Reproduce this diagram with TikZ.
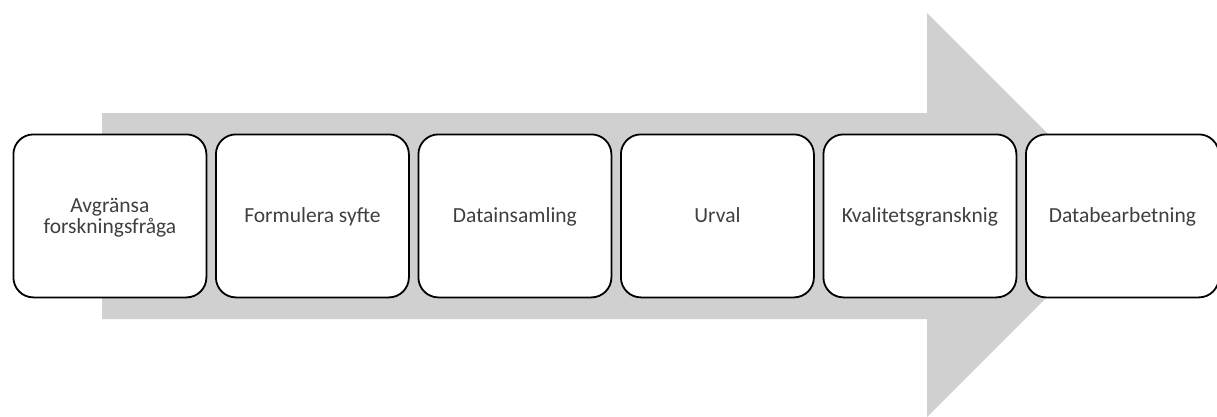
\documentclass[tikz,border=0pt]{standalone}
\usepackage{fontspec}
\setmainfont{Carlito}
\definecolor{arrowgray}{HTML}{D0D0D0}
\definecolor{txtgray}{HTML}{3F3F3F}
\begin{document}
\begin{tikzpicture}[x=1pt,y=-1pt,
  stepbox/.style={draw=black, line width=1.8pt, fill=white, rounded corners=20pt,
    minimum width=193pt, minimum height=163pt, inner sep=0pt, anchor=north west,
    text=txtgray, align=center, font=\fontsize{21.5}{21.7}\selectfont},
  oneline/.style={stepbox, text height=16pt, text depth=2pt},
  twoline/.style={stepbox, text height=38pt, text depth=2pt}]
\useasboundingbox (0,0) rectangle (1217,416);
\begin{scope}
\clip (0,0) rectangle (1217,416);
\fill[arrowgray] (102,113) -- (927,113) -- (927,13) -- (1129,215) -- (927,417) -- (927,319) -- (102,319) -- cycle;
\node[twoline] (b1) at (12.5,133.5) {Avgränsa\\forskningsfråga};
\node[oneline] (b2) at (215,133.5) {Formulera syfte};
\node[oneline] (b3) at (417.5,133.5) {Datainsamling};
\node[oneline] (b4) at (620,133.5) {Urval};
\node[oneline] (b5) at (822.5,133.5) {Kvalitetsgransknig};
\node[oneline] (b6) at (1025,133.5) {Databearbetning};
\end{scope}
\end{tikzpicture}
\end{document}
